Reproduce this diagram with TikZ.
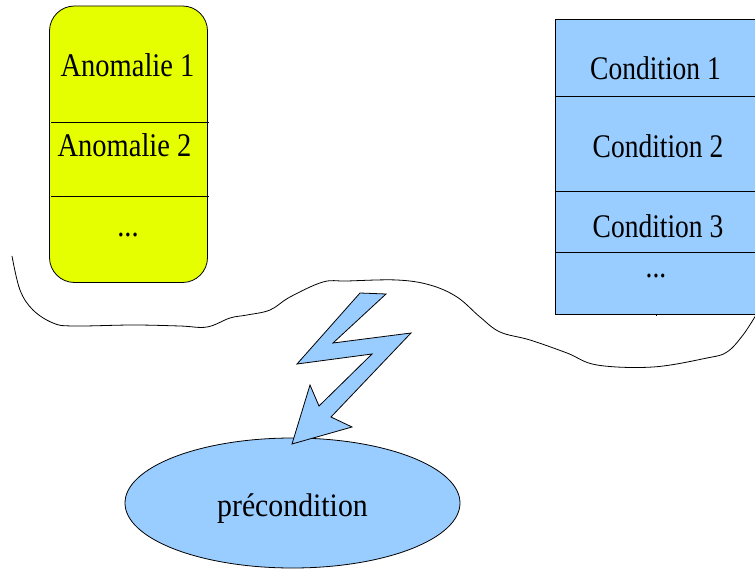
\documentclass[tikz,border=0pt]{standalone}
\usepackage{fontspec}
\setmainfont{Liberation Serif}
\definecolor{ayellow}{HTML}{E6FF00}
\definecolor{cblue}{HTML}{99CCFF}
\newcommand{\stretched}[3]{\scalebox{1}[#2]{\fontsize{#1}{34}\selectfont #3}}
\begin{document}
\begin{tikzpicture}[x=1pt,y=-1pt,
  lbl/.style={anchor=base,inner sep=0pt},
  thin line/.style={line width=0.8pt,draw=black}]
\useasboundingbox (0,0) rectangle (755,569);
% yellow box
\draw[thin line,fill=ayellow,rounded corners=25pt] (49.5,6) rectangle (207.5,282.5);
\draw[thin line] (51,122.5) -- (209,122.5);
\draw[thin line] (51,196.5) -- (209,196.5);
\node[lbl] (a1) at (127.5,77) {\stretched{28.5}{1.16}{Anomalie 1}};
\node[lbl] (a2) at (124.5,157) {\stretched{28.5}{1.16}{Anomalie 2}};
\node[lbl] (a3) at (128,237) {\stretched{28.5}{1.16}{...}};
% blue box
\draw[thin line,fill=cblue] (555.5,19.5) rectangle (760,314);
\draw[thin line] (555.5,96.7) -- (760,96.7);
\draw[thin line] (555.5,191.3) -- (760,191.3);
\draw[thin line] (555.5,252.7) -- (760,252.7);
\draw[line width=0.6pt] (656,314) -- (656,316);
\node[lbl] (c1) at (655.5,79.3) {\stretched{27.5}{1.2}{Condition 1}};
\node[lbl] (c2) at (658,158) {\stretched{27.5}{1.2}{Condition 2}};
\node[lbl] (c3) at (658,238) {\stretched{27.5}{1.2}{Condition 3}};
\node[lbl] (c4) at (656,278) {\stretched{27.5}{1.2}{...}};
% wavy line
\draw[thin line] plot[smooth,tension=0.6] coordinates {
 (12,256) (20,290) (33,310) (53,323) (73,326) (133,325) (180,326) (207,327)
 (230,318) (247,315) (270,310) (290,297) (323,282) (347,281) (397,280)
 (430,285) (457,297) (480,317) (500,332) (530,340) (567,353) (597,365)
 (653,367) (707,358) (727,352) (743,335) (756,315)};
% ellipse
\draw[thin line,fill=cblue] (292.5,503) ellipse [x radius=167.5,y radius=65];
\node[lbl] (pre) at (292.5,516.5) {\stretched{29.8}{1.1}{précondition}};
% lightning
\draw[thin line,fill=cblue,line join=miter]
 (360,293) -- (386,294) -- (333,343) -- (411,333) -- (331,417) -- (352,427)
 -- (292,444) -- (310,385) -- (319,406) -- (372,354) -- (297,364) -- cycle;
\end{tikzpicture}
\end{document}
